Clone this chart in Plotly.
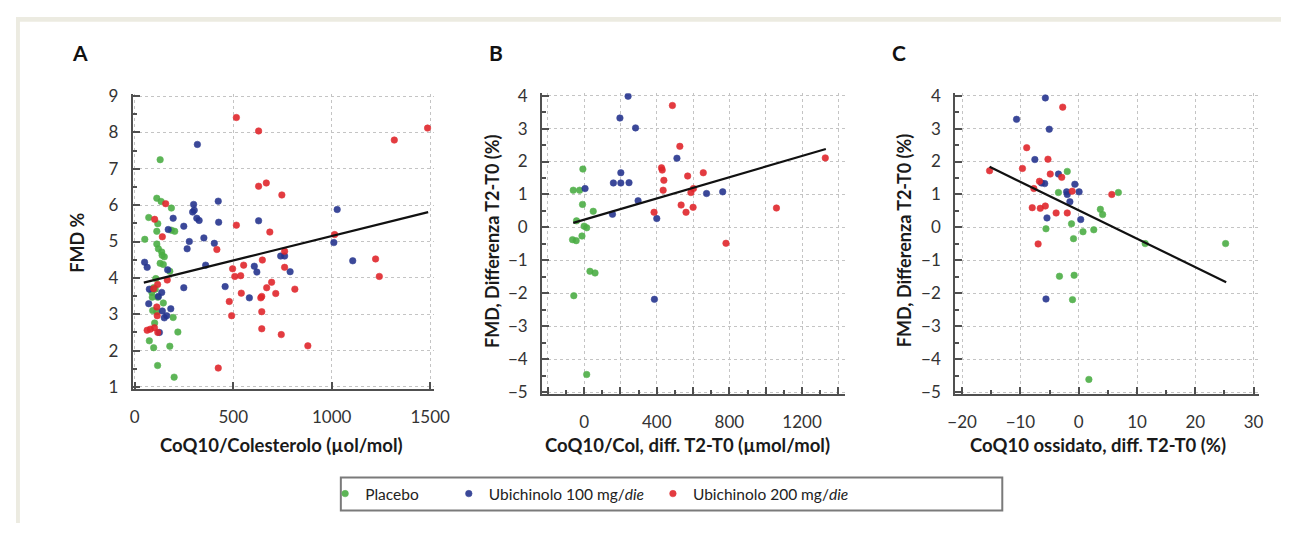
import plotly.graph_objects as go

# ---------------- Data ----------------
# Panel A: CoQ10/Colesterolo (µol/mol) vs FMD %
a_placebo_x = [129, 112, 134, 186, 71, 117, 186, 203, 51, 112, 112, 120, 137, 150, 129, 145, 178, 107, 96, 87,
               117, 145, 91, 112, 195, 101, 219, 74, 96, 178, 116, 200, 104, 89, 139]
a_placebo_y = [7.25, 6.19, 6.10, 5.92, 5.66, 5.49, 5.31, 5.28, 5.06, 5.28, 4.93, 4.80, 4.71, 4.58, 4.40, 4.37, 4.18,
               3.98, 3.73, 3.60, 3.47, 3.31, 3.10, 3.07, 2.91, 2.76, 2.51, 2.27, 2.08, 2.12, 1.59, 1.27, 3.69, 3.47, 4.62]
a_u100_x = [318, 424, 299, 302, 294, 195, 315, 327, 426, 629, 1028, 249, 170, 351, 404, 277, 266, 1011, 741, 761,
            1107, 607, 620, 789, 360, 50, 63, 167, 459, 249, 582, 74, 71, 137, 120, 140, 183, 162, 150, 125]
a_u100_y = [7.67, 6.11, 6.02, 5.86, 5.81, 5.64, 5.64, 5.58, 5.53, 5.57, 5.88, 5.42, 5.33, 5.10, 4.95, 5.00, 4.80,
            4.97, 4.60, 4.60, 4.47, 4.32, 4.16, 4.17, 4.35, 4.43, 4.29, 4.22, 3.76, 3.73, 3.45, 3.69, 3.29, 3.60,
            3.49, 3.09, 3.15, 2.96, 2.90, 2.50]
a_u200_x = [516, 629, 1487, 1318, 629, 668, 747, 157, 101, 140, 516, 686, 417, 761, 1015, 648, 497, 761, 553, 508,
            538, 1223, 1242, 813, 695, 670, 716, 541, 645, 640, 480, 645, 492, 645, 744, 879, 424, 165, 116, 112,
            114, 63, 79, 100, 117, 96]
a_u200_y = [8.41, 8.04, 8.12, 7.79, 6.52, 6.61, 6.28, 6.04, 5.61, 5.13, 5.45, 5.26, 4.78, 4.73, 5.19, 4.49, 4.25,
            4.29, 4.35, 4.04, 4.06, 4.52, 4.04, 3.69, 3.88, 3.73, 3.57, 3.58, 3.49, 3.45, 3.35, 3.07, 2.96, 2.60,
            2.44, 2.13, 1.52, 3.94, 3.82, 3.20, 2.96, 2.56, 2.59, 2.63, 2.50, 3.70]
a_fit_x = [46, 1490]
a_fit_y = [3.87, 5.81]

# Panel B: CoQ10/Col diff. T2-T0 (µmol/mol) vs FMD diff T2-T0 (%)
b_placebo_x = [-7, -60, -25, -9, 50, -42, 0, 14, -12, -64, -44, 32, 60, -57, 14]
b_placebo_y = [1.77, 1.13, 1.13, 0.70, 0.49, 0.20, 0.04, -0.01, -0.26, -0.37, -0.40, -1.33, -1.38, -2.07, -4.46]
b_u100_x = [5, 156, 242, 197, 283, 202, 161, 202, 247, 297, 400, 511, 674, 763, 387]
b_u100_y = [1.18, 0.40, 3.98, 3.32, 3.02, 1.66, 1.35, 1.35, 1.36, 0.81, 0.27, 2.10, 1.03, 1.08, -2.18]
b_u200_x = [486, 527, 426, 430, 439, 570, 656, 435, 588, 602, 534, 600, 385, 561, 781, 1059, 1328]
b_u200_y = [3.70, 2.46, 1.81, 1.74, 1.43, 1.56, 1.66, 1.13, 1.06, 1.18, 0.68, 0.61, 0.46, 0.46, -0.48, 0.59, 2.11]
b_fit_x = [-60, 1331]
b_fit_y = [0.14, 2.38]

# Panel C: CoQ10 ossidato diff. T2-T0 (%) vs FMD diff T2-T0 (%)
c_placebo_x = [-1.97, -3.48, 6.8, 3.71, 4.1, -1.24, -5.62, 0.73, 2.58, -0.9, 11.4, 25.2, -3.31, -0.79, -1.07, 1.74]
c_placebo_y = [1.70, 1.06, 1.06, 0.55, 0.39, 0.11, -0.04, -0.13, -0.07, -0.34, -0.49, -0.49, -1.48, -1.45, -2.19, -4.61]
c_u100_x = [-5.73, -10.67, -5.06, -7.53, -3.48, -5.84, -6.4, -2.08, -1.97, -0.67, 0.06, -1.52, -5.45, 0.34, -5.62]
c_u100_y = [3.93, 3.28, 2.98, 2.06, 1.62, 1.33, 1.35, 1.08, 1.0, 1.31, 1.08, 0.78, 0.29, 0.24, -2.17]
c_u200_x = [-2.75, -8.93, -5.28, -9.66, -15.3, -4.89, -2.92, -6.74, -7.7, -1.12, 5.67, -7.98, -6.6, -5.73, -3.88,
            -1.97, -6.97]
c_u200_y = [3.65, 2.42, 2.07, 1.79, 1.72, 1.62, 1.52, 1.40, 1.18, 1.10, 1.0, 0.60, 0.58, 0.65, 0.44, 0.44, -0.5]
c_fit_x = [-15.3, 25.3]
c_fit_y = [1.84, -1.66]

group_names = ["Placebo", "Ubichinolo 100 mg/<i>die</i>", "Ubichinolo 200 mg/<i>die</i>"]
group_colors = ["#4cae45", "#26358f", "#e0262c"]

panel_letters = ["A", "B", "C"]
x_titles = ["CoQ10/Colesterolo (µol/mol)", "CoQ10/Col, diff. T2-T0 (µmol/mol)", "CoQ10 ossidato, diff. T2-T0 (%)"]
y_titles = ["FMD %", "FMD, Differenza T2-T0 (%)", "FMD, Differenza T2-T0 (%)"]

a_xticks = [0, 500, 1000, 1500]
b_xticks = [-200, 0, 200, 400, 600, 800, 1000, 1200, 1400]
b_xticklabels = ["", "0", "", "400", "", "800", "", "1200", ""]
c_xticks = [-20, -10, 0, 10, 20, 30]

# ---------------- Figure ----------------
# The page keeps the default 8px body margin; the figure is 16px smaller than the
# 1305x540 window so that the page fits exactly. Positions are given in window pixels.
PAGE_W, PAGE_H, OFF = 1305, 540, 8
W, H = PAGE_W - 2 * OFF, PAGE_H - 2 * OFF
FONT = "Lato"
fig = go.Figure()

panels = [
    ("x", "y", [(a_placebo_x, a_placebo_y), (a_u100_x, a_u100_y), (a_u200_x, a_u200_y)], (a_fit_x, a_fit_y)),
    ("x2", "y2", [(b_placebo_x, b_placebo_y), (b_u100_x, b_u100_y), (b_u200_x, b_u200_y)], (b_fit_x, b_fit_y)),
    ("x3", "y3", [(c_placebo_x, c_placebo_y), (c_u100_x, c_u100_y), (c_u200_x, c_u200_y)], (c_fit_x, c_fit_y)),
]
legend_ids = ["legend", "legend2", "legend3"]

for p, (xa, ya, groups, fit) in enumerate(panels):
    for g, (gx, gy) in enumerate(groups):
        fig.add_trace(go.Scatter(
            x=gx, y=gy, xaxis=xa, yaxis=ya, mode="markers",
            name=group_names[g], legend=legend_ids[g], showlegend=(p == 0),
            marker=dict(color=group_colors[g], size=6.5, opacity=0.9,
                        line=dict(color=group_colors[g], width=0.6)),
        ))
    fig.add_trace(go.Scatter(x=fit[0], y=fit[1], xaxis=xa, yaxis=ya, mode="lines",
                             line=dict(color="#111111", width=2.2), showlegend=False))

def fx(px):  # window px -> paper fraction (x)
    return (px - OFF) / W

def fy(py):  # window px -> paper fraction (y)
    return 1 - (py - OFF) / H

def dom_x(a, b):
    return [fx(a), fx(b)]

def dom_y(top, bottom):
    return [fy(bottom), fy(top)]

axis_common = dict(
    showline=True, linecolor="#505050", linewidth=2,
    ticks="inside", ticklen=7, tickwidth=1.5, tickcolor="#505050",
    showgrid=True, gridcolor="#c4c4c4", griddash="dot", gridwidth=1,
    zeroline=False, tickfont=dict(family=FONT, size=17, color="#333333"),
)
x_common = dict(ticklabelstandoff=12, **axis_common)
y_common = dict(ticklabelstandoff=9, **axis_common)
minor_common = dict(ticks="inside", ticklen=4, tickcolor="#505050", showgrid=False)

fig.update_layout(
    width=W, height=H, margin=dict(l=0, r=0, t=0, b=0),
    paper_bgcolor="white", plot_bgcolor="white",
    font=dict(family=FONT, color="#222222"),
    xaxis=dict(domain=dom_x(127, 434), anchor="y", range=[-10, 1520], tickvals=a_xticks, **x_common),
    yaxis=dict(domain=dom_y(88, 393), anchor="x", range=[0.95, 9.05], tick0=1, dtick=1,
               minor=dict(dtick=0.5, **minor_common), **y_common),
    xaxis2=dict(domain=dom_x(544, 853), anchor="y2", range=[-232, 1438], tickvals=b_xticks,
                ticktext=b_xticklabels, minor=dict(dtick=100, tick0=0, **minor_common), **x_common),
    yaxis2=dict(domain=dom_y(87, 398), anchor="x2", range=[-5.04, 4.07], tick0=0, dtick=1,
                minor=dict(dtick=0.5, **minor_common), **y_common),
    xaxis3=dict(domain=dom_x(965, 1275), anchor="y3", range=[-21.2, 31.0], tickvals=c_xticks,
                minor=dict(dtick=5, tick0=0, **minor_common), **x_common),
    yaxis3=dict(domain=dom_y(87, 398), anchor="x3", range=[-5.04, 4.07], tick0=0, dtick=1,
                minor=dict(dtick=0.5, **minor_common), **y_common),
)

legend_dot_px = [343, 469, 677]
for lid, dx in zip(legend_ids, legend_dot_px):
    fig.update_layout(**{lid: dict(
        x=fx(dx - 20), xanchor="left", y=fy(502), yanchor="middle",
        orientation="h", bgcolor="rgba(0,0,0,0)", borderwidth=0,
        font=dict(family=FONT, size=15.5, color="#222222"), itemwidth=30,
    )})

shapes = [
    dict(type="rect", xref="paper", yref="paper", x0=0, x1=1, y0=fy(13), y1=1,
         fillcolor="#ecebe1", line=dict(width=0), layer="below"),
    dict(type="rect", xref="paper", yref="paper", x0=0, x1=fx(12), y0=0, y1=1,
         fillcolor="#ecebe1", line=dict(width=0), layer="below"),
    dict(type="rect", xref="paper", yref="paper", x0=fx(339), x1=fx(1013), y0=fy(519), y1=fy(485),
         fillcolor="rgba(0,0,0,0)", line=dict(color="#7a7a7a", width=2)),
]
fig.update_layout(shapes=shapes)

annotations = []
letter_x = [73, 497, 908]
xtitle_x = [279, 692, 1111]
ytitle_x = [70, 493, 913]
ytitle_y = [242, 240, 240]
for i in range(3):
    annotations.append(dict(text=panel_letters[i], x=fx(letter_x[i]), y=fy(45), xref="paper", yref="paper",
                            showarrow=False, xanchor="center", yanchor="middle",
                            font=dict(family=FONT, size=21, color="#111111", weight="bold")))
    annotations.append(dict(text=x_titles[i], x=fx(xtitle_x[i]), y=fy(451), xref="paper", yref="paper",
                            showarrow=False, xanchor="center", yanchor="middle",
                            font=dict(family=FONT, size=18.5, color="#1a1a1a", weight="bold")))
    annotations.append(dict(text=y_titles[i], x=fx(ytitle_x[i]), y=fy(ytitle_y[i]), xref="paper",
                            yref="paper", showarrow=False, xanchor="center", yanchor="middle", textangle=-90,
                            font=dict(family=FONT, size=18, color="#1a1a1a", weight="bold")))
fig.update_layout(annotations=annotations)

fig.write_html("out.html", config={"displayModeBar": False})
